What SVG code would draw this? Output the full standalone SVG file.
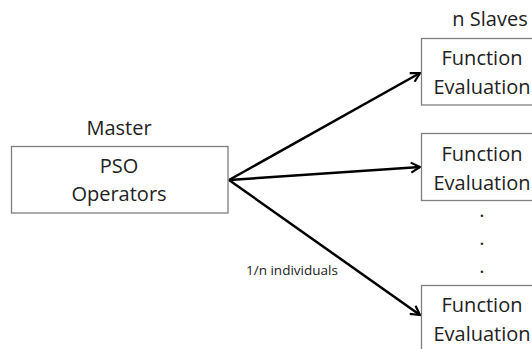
<svg xmlns="http://www.w3.org/2000/svg" width="532" height="349" viewBox="0 0 532 349">
<defs>
<style>
.box{fill:#fff;stroke:#7f7f7f;stroke-width:1.3}
.t{font-family:"Open Sans","Liberation Sans",sans-serif;font-size:20px;fill:#222;text-anchor:middle}
.s{font-family:"Open Sans","Liberation Sans",sans-serif;font-size:13.5px;fill:#222}
.c{stroke:#000;stroke-width:2.5;fill:none}
</style>
<marker id="ah" viewBox="0 0 12 12" refX="10" refY="6" markerWidth="12" markerHeight="12" markerUnits="userSpaceOnUse" orient="auto">
<path d="M1,1 L10,6 L1,11" fill="none" stroke="#000" stroke-width="2.2"/>
</marker>
</defs>
<rect width="532" height="349" fill="#fff"/>
<g id="connectors">
<line class="c" x1="229" y1="180" x2="420" y2="73" marker-end="url(#ah)"/>
<line class="c" x1="229" y1="180" x2="420" y2="167" marker-end="url(#ah)"/>
<line class="c" x1="229" y1="180" x2="420" y2="315" marker-end="url(#ah)"/>
<text class="s" x="246" y="275">1/n individuals</text>
</g>
<g id="master">
<text class="t" x="119" y="135">Master</text>
<rect class="box" x="11.5" y="146.5" width="216.5" height="66.5"/>
<text class="t" x="119" y="173">PSO</text>
<text class="t" x="119" y="201">Operators</text>
</g>
<g id="slave1">
<text class="t" x="490" y="26">n Slaves</text>
<rect class="box" x="421.5" y="38.5" width="130" height="66.5"/>
<text class="t" x="482" y="65">Function</text>
<text class="t" x="482" y="94">Evaluation</text>
</g>
<g id="slave2">
<rect class="box" x="421.5" y="133.5" width="130" height="67"/>
<text class="t" x="482" y="161">Function</text>
<text class="t" x="482" y="190">Evaluation</text>
</g>
<g id="dots">
<text class="t" x="482" y="217">.</text>
<text class="t" x="482" y="245">.</text>
<text class="t" x="482" y="273">.</text>
</g>
<g id="slave3">
<rect class="box" x="421.5" y="285.5" width="130" height="80"/>
<text class="t" x="482" y="312">Function</text>
<text class="t" x="482" y="341">Evaluation</text>
</g>
</svg>
